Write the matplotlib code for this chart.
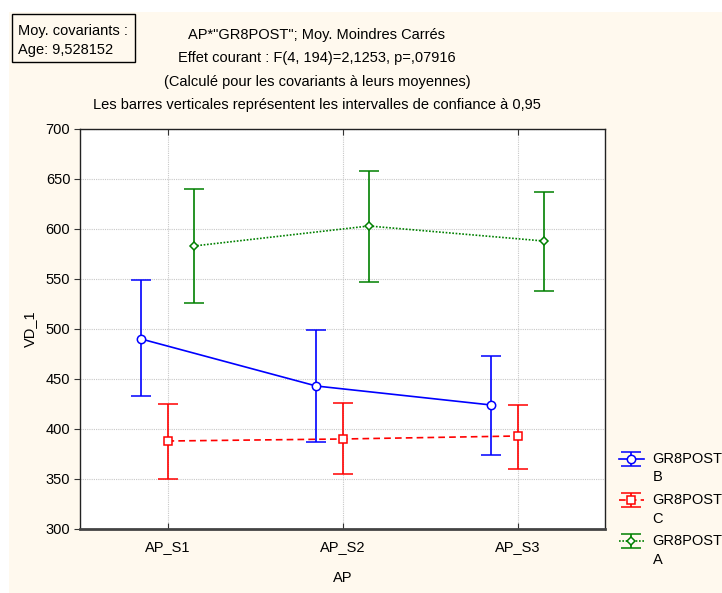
import matplotlib
matplotlib.use("Agg")
import matplotlib.pyplot as plt
from matplotlib.patches import Rectangle
from matplotlib.legend_handler import HandlerErrorbar
import numpy as np

plt.rcParams['font.family'] = ['Liberation Sans', 'DejaVu Sans']

categories = ["AP_S1", "AP_S2", "AP_S3"]
series_names = ["GR8POST\nB", "GR8POST\nC", "GR8POST\nA"]
mean_B = [490, 443, 424]
low_B = [433, 387, 374]
high_B = [549, 499, 473]
mean_C = [388, 390, 393]
low_C = [350, 355, 360]
high_C = [425, 426, 424]
mean_A = [583, 603, 588]
low_A = [526, 547, 538]
high_A = [640, 658, 637]
y_ticks = [300, 350, 400, 450, 500, 550, 600, 650, 700]

title_lines = ["AP*\"GR8POST\"; Moy. Moindres Carrés",
               "Effet courant : F(4, 194)=2,1253, p=,07916",
               "(Calculé pour les covariants à leurs moyennes)",
               "Les barres verticales représentent les intervalles de confiance à 0,95"]

FS = 10.5
CREAM = '#FFF9EE'

fig = plt.figure(figsize=(7.22, 5.93), dpi=100)
fig.patch.set_facecolor('white')
bg = Rectangle((9/722, 0), 713/722, 1 - 12/593, transform=fig.transFigure,
               facecolor=CREAM, edgecolor='none', zorder=-10)
fig.patches.append(bg)

ax = fig.add_axes([80/722, 1-529/593, 525/722, 400/593])
ax.set_facecolor('white')

x = np.arange(len(categories))
off = 0.15
specs = [
    (mean_B, low_B, high_B, -off, '#0000FF', '-', 'o', series_names[0]),
    (mean_C, low_C, high_C, 0.0, '#FF0000', (0, (4, 2.5)), 's', series_names[1]),
    (mean_A, low_A, high_A, off, '#008000', (0, (1, 1)), 'D', series_names[2]),
]
handles = []
for m, lo, hi, dx, col, ls, mk, name in specs:
    m = np.array(m); lo = np.array(lo); hi = np.array(hi)
    yerr = np.vstack([m - lo, hi - m])
    msize = 6 if mk != 'D' else 4.5
    h = ax.errorbar(x + dx, m, yerr=yerr, color=col, linestyle=ls, linewidth=1.2,
                    marker=mk, markersize=msize, markerfacecolor='white',
                    markeredgecolor=col, markeredgewidth=1.1,
                    ecolor=col, elinewidth=1.2, capsize=7, capthick=1.2,
                    label=name, zorder=3)
    handles.append(h)

ax.set_xlim(-0.5, 2.5)
ax.set_ylim(300, 700)
ax.set_xticks(x)
ax.set_xticklabels(categories, fontsize=FS)
ax.set_yticks(y_ticks)
ax.set_yticklabels([str(v) for v in y_ticks], fontsize=FS)
ax.grid(True, color='#C8C8C8', linestyle=(0, (1, 1)), linewidth=0.8, zorder=0)
ax.tick_params(axis='y', direction='out', length=4, color='#333333', pad=3)
ax.tick_params(axis='x', direction='in', length=4, color='#333333', top=True, pad=8)
for s in ax.spines.values():
    s.set_color('#222222')
    s.set_linewidth(1.0)
ax.spines['bottom'].set_linewidth(2.0)
ax.spines['bottom'].set_color('#444444')
ax.set_xlabel("AP", fontsize=FS, labelpad=12)
ax.set_ylabel("VD_1", fontsize=FS, labelpad=6)

cx = 317 / 722
for i, t in enumerate(title_lines):
    fig.text(cx, 1 - (35 + 23.3 * i) / 593, t, ha='center', va='center', fontsize=FS)

# covariates box
box = Rectangle((12/722, 1 - 62/593), 123/722, 48/593, transform=fig.transFigure,
                facecolor=CREAM, edgecolor='black', linewidth=1.0)
fig.patches.append(box)
fig.text(18/722, 1 - 31/593, "Moy. covariants :", ha='left', va='center', fontsize=FS)
fig.text(18/722, 1 - 50/593, "Age: 9,528152", ha='left', va='center', fontsize=FS)


class ShiftedErrorbar(HandlerErrorbar):
    def __init__(self, shift, **kw):
        super().__init__(**kw)
        self.shift = shift

    def create_artists(self, legend, orig_handle, xdescent, ydescent, width, height,
                       fontsize, trans):
        return super().create_artists(legend, orig_handle, xdescent,
                                      ydescent - 2 * self.shift, width, height,
                                      fontsize, trans)


hmap = {h: ShiftedErrorbar(shift=7.0) for h in handles}
leg = fig.legend(handles=handles, labels=series_names, loc='upper left',
                 bbox_to_anchor=(619/722, 1 - 452/593), frameon=False, fontsize=FS,
                 handlelength=1.7, handletextpad=0.6, labelspacing=0.6,
                 borderpad=0, borderaxespad=0, handler_map=hmap)
for t in leg.get_texts():
    t.set_linespacing(1.4)

fig.savefig("out.png", dpi=100, facecolor=fig.get_facecolor())
